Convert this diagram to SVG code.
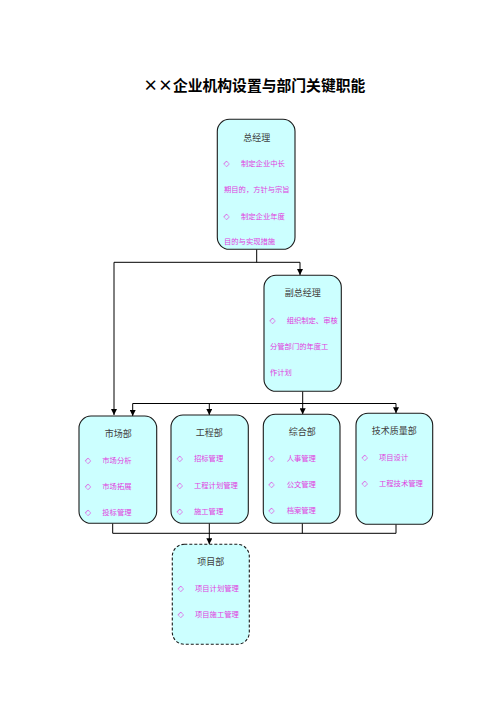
<svg xmlns="http://www.w3.org/2000/svg" width="496" height="702" viewBox="0 0 496 702">
<style>
.box{fill:#ccffff;stroke:#1a1a1a;stroke-width:1.1}
.dash{stroke-dasharray:3,2}
.hd{font-family:"Noto Sans CJK SC","Noto Sans",sans-serif;font-size:9px;fill:#404040;text-anchor:middle}
.it{font-family:"Noto Sans CJK SC","Noto Sans",sans-serif;font-size:7.3px;fill:#e040e0}
.dm{font-family:"DejaVu Sans",sans-serif;font-size:8px;fill:#e040e0}
.ttl{font-family:"Noto Sans CJK SC","Liberation Sans",sans-serif;font-size:15px;font-weight:bold;fill:#000}
.ln{fill:none;stroke:#000;stroke-width:1}
</style>
<defs>
<marker id="ar" viewBox="0 0 6 6" refX="6" refY="3" markerWidth="6" markerHeight="6" orient="auto" markerUnits="userSpaceOnUse">
<path d="M0,0 L6,3 L0,6 Z" fill="#000"/>
</marker>
</defs>
<text class="ttl" x="143.3" y="91" textLength="222" lengthAdjust="spacingAndGlyphs">××企业机构设置与部门关键职能</text>

<g id="connectors">
<path class="ln" d="M256.7,249.3 V262.3 M114,262.3 H300"/>
<path class="ln" d="M114,262.3 V415" marker-end="url(#ar)"/>
<path class="ln" d="M300,262.3 V275" marker-end="url(#ar)"/>
<path class="ln" d="M302.7,391.3 V403.5 M132.7,403.5 H396"/>
<path class="ln" d="M132.7,403.5 V416" marker-end="url(#ar)"/>
<path class="ln" d="M209.3,403.5 V415" marker-end="url(#ar)"/>
<path class="ln" d="M302.7,403.5 V414.3" marker-end="url(#ar)"/>
<path class="ln" d="M396,403.5 V413.3" marker-end="url(#ar)"/>
<path class="ln" d="M112.7,523.3 V533.3 M302.3,523.3 V533.3 M396,524.3 V533.3 M112.7,533.3 H396"/>
<path class="ln" d="M209.3,523.3 V544.3" marker-end="url(#ar)"/>
</g>

<g id="zongjingli">
<rect class="box" x="217.3" y="119.3" width="77.7" height="130" rx="12"/>
<text class="hd" x="256.7" y="141">总经理</text>
<text class="dm" x="223.5" y="166">◇</text>
<text class="it" x="241" y="166">制定企业中长</text>
<text class="it" x="224" y="192">期目的，方针与宗旨</text>
<text class="dm" x="223.5" y="218.5">◇</text>
<text class="it" x="241" y="218.5">制定企业年度</text>
<text class="it" x="224" y="243.5">目的与实现措施</text>
</g>

<g id="fuzongjingli">
<rect class="box" x="264" y="275.3" width="77.3" height="116" rx="12"/>
<text class="hd" x="302.7" y="295.7">副总经理</text>
<text class="dm" x="269.5" y="322.8">◇</text>
<text class="it" x="286.7" y="322.8">组织制定、审核</text>
<text class="it" x="270" y="348.8">分管部门的年度工</text>
<text class="it" x="270" y="374.5">作计划</text>
</g>

<g id="shichangbu">
<rect class="box" x="79" y="416" width="77.7" height="107.3" rx="12"/>
<text class="hd" x="118.3" y="437">市场部</text>
<text class="dm" x="85" y="462.8">◇</text>
<text class="it" x="102.3" y="462.8">市场分析</text>
<text class="dm" x="85" y="488.8">◇</text>
<text class="it" x="102.3" y="488.8">市场拓展</text>
<text class="dm" x="85" y="515">◇</text>
<text class="it" x="102.3" y="515">投标管理</text>
</g>

<g id="gongchengbu">
<rect class="box" x="171" y="415" width="77.3" height="108.3" rx="12"/>
<text class="hd" x="209.3" y="436.3">工程部</text>
<text class="dm" x="176.7" y="461">◇</text>
<text class="it" x="194" y="461">招标管理</text>
<text class="dm" x="176.7" y="487.8">◇</text>
<text class="it" x="194" y="487.8">工程计划管理</text>
<text class="dm" x="176.7" y="513.8">◇</text>
<text class="it" x="194" y="513.8">施工管理</text>
</g>

<g id="zonghebu">
<rect class="box" x="263.3" y="414.3" width="76.7" height="109" rx="12"/>
<text class="hd" x="302.3" y="434.7">综合部</text>
<text class="dm" x="268.4" y="460.5">◇</text>
<text class="it" x="286.7" y="460.5">人事管理</text>
<text class="dm" x="268.4" y="487">◇</text>
<text class="it" x="286.7" y="487">公文管理</text>
<text class="dm" x="268.4" y="513">◇</text>
<text class="it" x="286.7" y="513">档案管理</text>
</g>

<g id="jishuzhiliangbu">
<rect class="box" x="356" y="413.3" width="76.7" height="111" rx="12"/>
<text class="hd" x="394.3" y="433.7">技术质量部</text>
<text class="dm" x="361.7" y="460">◇</text>
<text class="it" x="379" y="460">项目设计</text>
<text class="dm" x="361.7" y="486">◇</text>
<text class="it" x="379" y="486">工程技术管理</text>
</g>

<g id="xiangmubu">
<rect class="box dash" x="172.3" y="544.3" width="77" height="100" rx="12"/>
<text class="hd" x="210.7" y="565.3">项目部</text>
<text class="dm" x="177.7" y="591">◇</text>
<text class="it" x="195" y="591">项目计划管理</text>
<text class="dm" x="177.7" y="617">◇</text>
<text class="it" x="195" y="617">项目施工管理</text>
</g>
</svg>
